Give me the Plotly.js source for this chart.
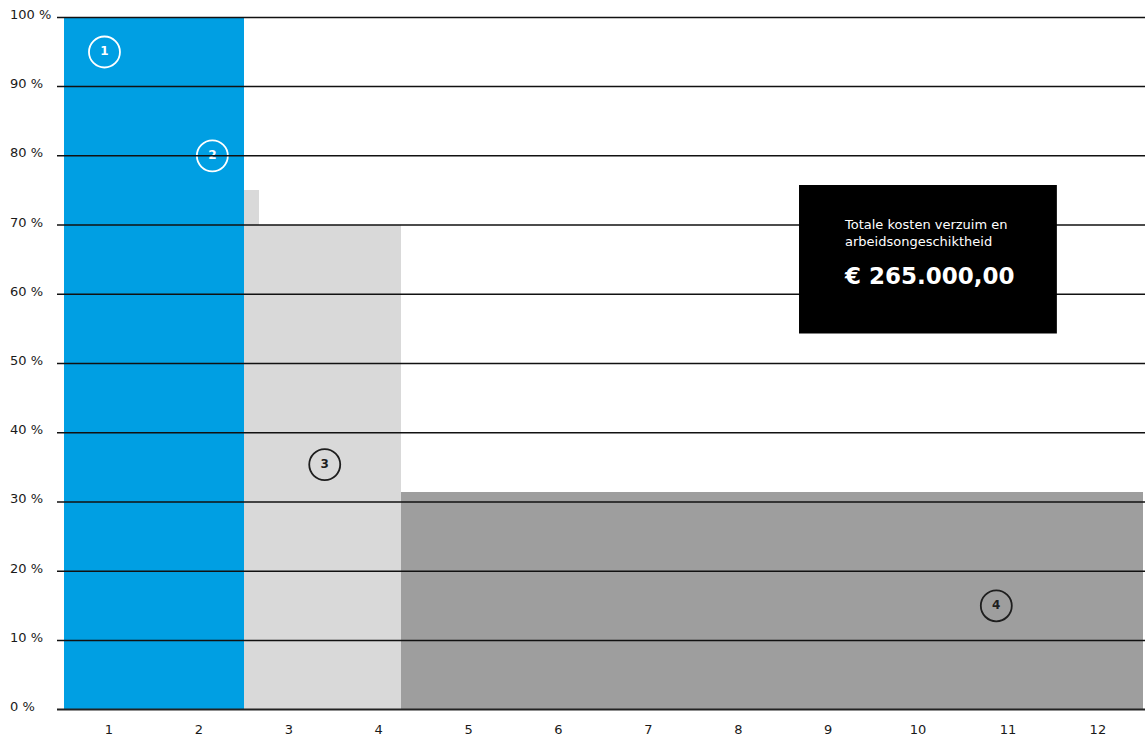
<!DOCTYPE html>
<html><head><meta charset="utf-8">
<script src="https://cdn.plot.ly/plotly-3.0.1.min.js"></script>
<style>html,body{margin:0;padding:0;background:#fff}#chart{width:1145px;height:738px}</style>
</head><body><div id="chart"></div>
<script>
// Periods (in years) and benefit level (% of wage)
const periodStart = [0, 2, 2.1667, 3.75];
const periodEnd   = [2, 2.1667, 3.75, 12];
const periodValue = [100, 75, 70, 31.5];
const periodGroup = ['loondoorbetaling', 'wga-loongerelateerd', 'wga-loongerelateerd', 'wga-vervolg'];

const yearLabels = ['1','2','3','4','5','6','7','8','9','10','11','12'];
const yTickValues = [0,10,20,30,40,50,60,70,80,90,100];

const badgeYear = [0.45, 1.65, 2.9, 10.37];
const badgePct  = [95, 80, 35.4, 15];
const badgeText = ['1','2','3','4'];

const totalLabel = 'Totale kosten verzuim en<br>arbeidsongeschiktheid';
const totalValue = '€ 265.000,00';

// styles
const groupColor = {'loondoorbetaling':'#009FE3','wga-loongerelateerd':'#D9D9D9','wga-vervolg':'#9E9E9E'};
const badgeStyle = {'1':'#ffffff','2':'#ffffff','3':'#1e1e1e','4':'#1e1e1e'};
const FONT = 'DejaVu Sans, Verdana, sans-serif';

const bars = {
  type:'bar',
  x: periodStart.map((s,i)=> (s+periodEnd[i])/2),
  width: periodStart.map((s,i)=> periodEnd[i]-s),
  y: periodValue,
  marker:{color: periodGroup.map(g=>groupColor[g]), line:{width:0}},
  hoverinfo:'skip'
};

const badges = {
  type:'scatter', mode:'markers+text',
  x: badgeYear, y: badgePct, text: badgeText,
  textposition:'middle center',
  textfont:{family:FONT, size:12, weight:'bold', color: badgeText.map(t=>badgeStyle[t])},
  marker:{symbol:'circle-open', size:31, color: badgeText.map(t=>badgeStyle[t]), line:{width:1.8}},
  hoverinfo:'skip', cliponaxis:false
};

const shapes = yTickValues.map(v => ({
  type:'line', xref:'paper', yref:'y', x0:0, x1:1, y0:v, y1:v, layer:'above',
  line:{color: v===0 ? '#222222' : '#111111', width: v===0 ? 2 : 1.5}
}));
shapes.push({type:'rect', xref:'paper', yref:'paper', x0:0.682, x1:0.919, y0:0.543, y1:0.757,
  fillcolor:'#000000', line:{width:0}, layer:'above'});

const annotations = yTickValues.map(v => ({
  xref:'paper', yref:'y', x:0, y:v, xanchor:'left', yanchor:'middle', xshift:-49, yshift:3,
  text: v + ' %', showarrow:false, font:{family:FONT, size:13, color:'#1a1a1a'}
}));
annotations.push({xref:'paper', yref:'paper', x:0.7215, y:0.688, xanchor:'left', yanchor:'middle', align:'left',
  text: totalLabel, showarrow:false, font:{family:FONT, size:13, color:'#ffffff'}});
annotations.push({xref:'paper', yref:'paper', x:0.7215, y:0.626, xanchor:'left', yanchor:'middle', align:'left',
  text: totalValue, showarrow:false, font:{family:FONT, size:23, weight:'bold', color:'#ffffff'}});

const layout = {
  width:1145, height:738,
  margin:{l:57, r:0, t:16, b:27, pad:0},
  paper_bgcolor:'#ffffff', plot_bgcolor:'#ffffff',
  showlegend:false, barmode:'overlay', bargap:0,
  xaxis:{range:[-0.078, 12.024], tickvals: yearLabels.map((_,i)=>i+0.5), ticktext: yearLabels,
    showgrid:false, zeroline:false, showline:false, ticks:'', fixedrange:true, ticklabelstandoff:9,
    tickfont:{family:FONT, size:13, color:'#1a1a1a'}},
  yaxis:{range:[-0.2,100.2], showgrid:false, zeroline:false, showline:false, showticklabels:false, ticks:'', fixedrange:true},
  shapes, annotations
};

Plotly.newPlot('chart', [bars, badges], layout, {displayModeBar:false, staticPlot:true});
</script>
</body></html>
